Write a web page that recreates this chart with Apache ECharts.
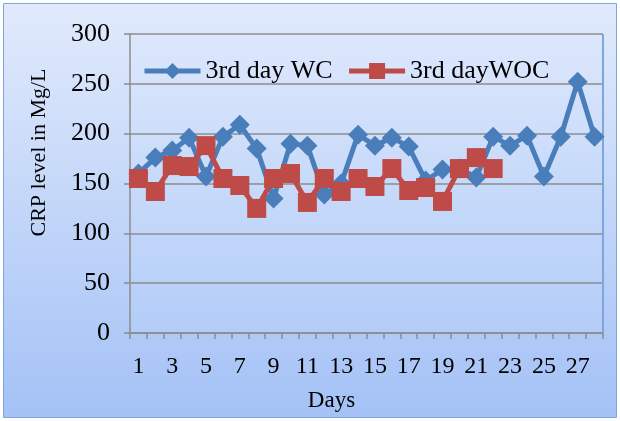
<!DOCTYPE html>
<html><head><meta charset="utf-8">
<script src="https://cdn.jsdelivr.net/npm/echarts@6/dist/echarts.min.js"></script>
<style>html,body{margin:0;padding:0;background:#fff}#c{width:620px;height:421px}</style>
</head><body><div id="c"></div>
<script>
const days = ['1','2','3','4','5','6','7','8','9','10','11','12','13','14','15','16','17','18','19','20','21','22','23','24','25','26','27','28'];
const wcValues = [160,176,183,196,157,197,209,185,135,190,188,139,150,199,188,196,187,153,164,165,156,197,188,198,157,197,252,197];
const wocValues = [155,142,168,167,188,155,148,125,155,160,131,155,142,155,147,165,143,146,132,165,176,165];
const yTicks = [0,50,100,150,200,250,300];
const seriesNames = ['3rd day WC','3rd dayWOC'];

const font = 'Liberation Serif';
const chart = echarts.init(document.getElementById('c'));
chart.setOption({
  animation:false,
  graphic:[
    {type:'rect',z:-10,shape:{x:3.5,y:3.5,width:613,height:414},
      style:{fill:new echarts.graphic.LinearGradient(0,0,0,1,[{offset:0,color:'#e1eafc'},{offset:1,color:'#a4c2f6'}]),stroke:'#7fa6dc',lineWidth:1}},
    {type:'line',z:1,shape:{x1:603,y1:34,x2:603,y2:333},style:{stroke:'#7fa6dc',lineWidth:2}}
  ],
  grid:{left:130,right:17,top:34,bottom:88,show:true,borderWidth:0,
    backgroundColor:new echarts.graphic.LinearGradient(0,0,0,1,[{offset:0,color:'#dce7fc'},{offset:1,color:'#b3cdf8'}])},
  legend:{left:137,top:53,itemWidth:56,itemHeight:20,itemGap:14,
    lineStyle:{width:5},
    textStyle:{fontFamily:font,fontSize:26,color:'#000'},
    data:seriesNames},
  xAxis:{type:'category',data:days,boundaryGap:true,
    name:'Days',nameLocation:'middle',nameGap:56,
    nameTextStyle:{fontFamily:font,fontSize:23,color:'#000',padding:[0,70,0,0]},
    axisLine:{lineStyle:{color:'#8c8c8c',width:1.5}},
    axisTick:{show:true,interval:0,length:6,inside:false,lineStyle:{color:'#8c8c8c',width:1.5}},
    axisLabel:{interval:1,margin:22,fontFamily:font,fontSize:24,color:'#000'},
    splitLine:{show:false}},
  yAxis:{type:'value',min:0,max:300,interval:50,
    name:'CRP level in Mg/L',nameLocation:'middle',nameGap:80,
    nameTextStyle:{fontFamily:font,fontSize:22,color:'#000',padding:[0,0,0,62]},
    axisLine:{show:true,lineStyle:{color:'#8c8c8c',width:1.5}},
    axisTick:{show:true,length:6,lineStyle:{color:'#8c8c8c',width:1.5}},
    axisLabel:{margin:20,fontFamily:font,fontSize:26,color:'#000',formatter:v=>yTicks.includes(v)?String(v):''},
    splitLine:{show:true,lineStyle:{color:'#8c8c8c',width:1.5}}},
  series:[
    {name:seriesNames[0],type:'line',data:wcValues,symbol:'diamond',symbolSize:20,showAllSymbol:true,
      lineStyle:{color:'#4a7ebb',width:5},itemStyle:{color:'#4a7ebb'},z:2},
    {name:seriesNames[1],type:'line',data:wocValues,symbol:'rect',symbolSize:19,showAllSymbol:true,
      lineStyle:{color:'#be4b48',width:5},itemStyle:{color:'#be4b48'},z:3}
  ]
});
</script></body></html>
